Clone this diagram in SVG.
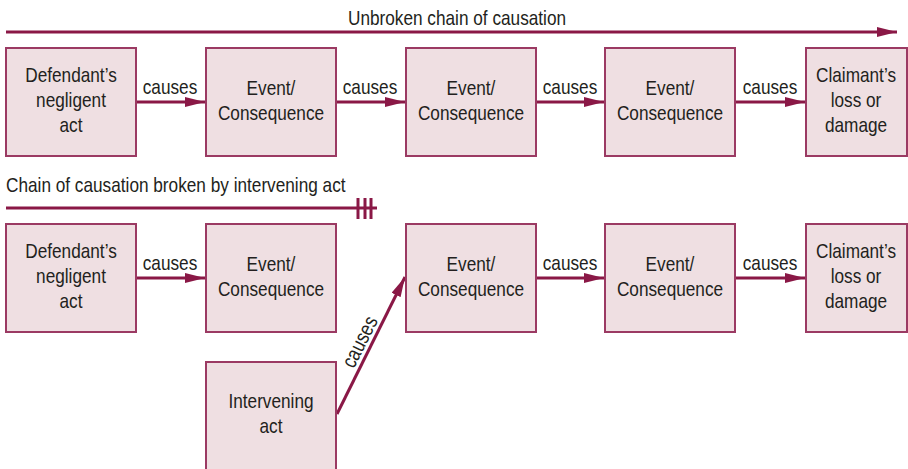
<svg xmlns="http://www.w3.org/2000/svg" width="908" height="469" viewBox="0 0 908 469">
<defs>
<style>
.box{fill:#efdfe2;stroke:#9b3a63;stroke-width:2}
.t{font-family:"Liberation Sans",Arial,sans-serif;font-size:21px;fill:#231f20;text-anchor:middle}
.tl{text-anchor:start}
.ln{stroke:#8a1846;stroke-width:3;fill:none}
</style>
<marker id="ah" markerWidth="20" markerHeight="10" refX="20" refY="5" orient="auto" markerUnits="userSpaceOnUse">
<path d="M0,0 L20,5 L0,10 Z" fill="#8a1846"/>
</marker>
</defs>
<rect width="908" height="469" fill="#fff"/>
<text class="t" transform="translate(457,25) scale(0.82,1)">Unbroken chain of causation</text>
<text class="t tl" transform="translate(6,192) scale(0.82,1)">Chain of causation broken by intervening act</text>
<g id="connectors">
<line class="ln" x1="6" y1="32" x2="897" y2="32" marker-end="url(#ah)"/>
<line class="ln" x1="137" y1="102" x2="205" y2="102" marker-end="url(#ah)"/>
<line class="ln" x1="337" y1="102" x2="405" y2="102" marker-end="url(#ah)"/>
<line class="ln" x1="537" y1="102" x2="604" y2="102" marker-end="url(#ah)"/>
<line class="ln" x1="736" y1="102" x2="805" y2="102" marker-end="url(#ah)"/>
<line class="ln" x1="6" y1="208" x2="377" y2="208"/>
<path class="ln" d="M358,198 V219 M365,198 V219 M371,198 V219"/>
<line class="ln" x1="137" y1="278" x2="205" y2="278" marker-end="url(#ah)"/>
<line class="ln" x1="537" y1="278" x2="604" y2="278" marker-end="url(#ah)"/>
<line class="ln" x1="736" y1="278" x2="805" y2="278" marker-end="url(#ah)"/>
<line class="ln" x1="337" y1="414" x2="405" y2="277" marker-end="url(#ah)"/>
<text class="t" transform="translate(170,94) scale(0.82,1)">causes</text>
<text class="t" transform="translate(370,94) scale(0.82,1)">causes</text>
<text class="t" transform="translate(570,94) scale(0.82,1)">causes</text>
<text class="t" transform="translate(770,94) scale(0.82,1)">causes</text>
<text class="t" transform="translate(170,270) scale(0.82,1)">causes</text>
<text class="t" transform="translate(570,270) scale(0.82,1)">causes</text>
<text class="t" transform="translate(770,270) scale(0.82,1)">causes</text>
<text class="t" transform="translate(366,345) rotate(-63.3) scale(0.82,1)">causes</text>
</g>
<g id="r1n1"><rect class="box" x="6" y="48" width="130" height="108"/><text class="t" transform="translate(71,82) scale(0.82,1)">Defendant’s</text><text class="t" transform="translate(71,107) scale(0.82,1)">negligent</text><text class="t" transform="translate(71,132) scale(0.82,1)">act</text></g>
<g id="r1n2"><rect class="box" x="206" y="48" width="130" height="108"/><text class="t" transform="translate(271,95) scale(0.82,1)">Event/</text><text class="t" transform="translate(271,120) scale(0.82,1)">Consequence</text></g>
<g id="r1n3"><rect class="box" x="406" y="48" width="130" height="108"/><text class="t" transform="translate(471,95) scale(0.82,1)">Event/</text><text class="t" transform="translate(471,120) scale(0.82,1)">Consequence</text></g>
<g id="r1n4"><rect class="box" x="605" y="48" width="130" height="108"/><text class="t" transform="translate(670,95) scale(0.82,1)">Event/</text><text class="t" transform="translate(670,120) scale(0.82,1)">Consequence</text></g>
<g id="r1n5"><rect class="box" x="806" y="48" width="101" height="108"/><text class="t" transform="translate(856,82) scale(0.82,1)">Claimant’s</text><text class="t" transform="translate(856,107) scale(0.82,1)">loss or</text><text class="t" transform="translate(856,132) scale(0.82,1)">damage</text></g>
<g id="r2n1"><rect class="box" x="6" y="224" width="130" height="108"/><text class="t" transform="translate(71,258) scale(0.82,1)">Defendant’s</text><text class="t" transform="translate(71,283) scale(0.82,1)">negligent</text><text class="t" transform="translate(71,308) scale(0.82,1)">act</text></g>
<g id="r2n2"><rect class="box" x="206" y="224" width="130" height="108"/><text class="t" transform="translate(271,271) scale(0.82,1)">Event/</text><text class="t" transform="translate(271,296) scale(0.82,1)">Consequence</text></g>
<g id="r2n3"><rect class="box" x="406" y="224" width="130" height="108"/><text class="t" transform="translate(471,271) scale(0.82,1)">Event/</text><text class="t" transform="translate(471,296) scale(0.82,1)">Consequence</text></g>
<g id="r2n4"><rect class="box" x="605" y="224" width="130" height="108"/><text class="t" transform="translate(670,271) scale(0.82,1)">Event/</text><text class="t" transform="translate(670,296) scale(0.82,1)">Consequence</text></g>
<g id="r2n5"><rect class="box" x="806" y="224" width="101" height="108"/><text class="t" transform="translate(856,258) scale(0.82,1)">Claimant’s</text><text class="t" transform="translate(856,283) scale(0.82,1)">loss or</text><text class="t" transform="translate(856,308) scale(0.82,1)">damage</text></g>
<g id="intervening"><rect class="box" x="206" y="362" width="130" height="112"/><text class="t" transform="translate(271,408) scale(0.82,1)">Intervening</text><text class="t" transform="translate(271,433) scale(0.82,1)">act</text></g>
</svg>
